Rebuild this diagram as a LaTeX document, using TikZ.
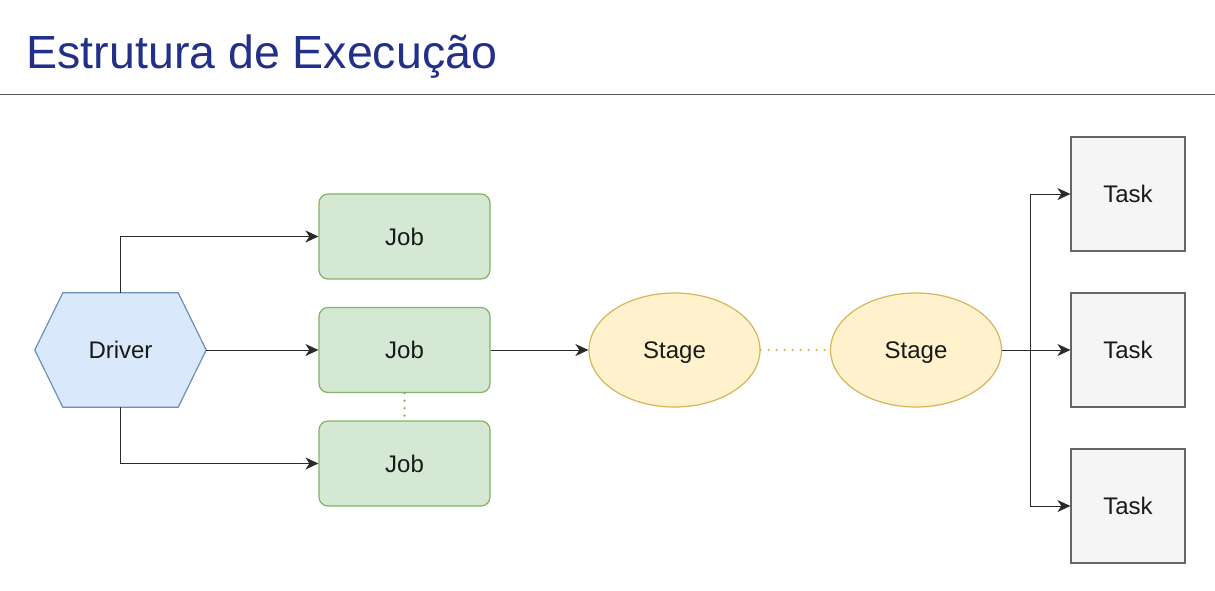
\documentclass[tikz,border=0pt]{standalone}
\usepackage{fontspec}
\setmainfont{Liberation Sans}
\usetikzlibrary{arrows.meta,shapes.geometric,backgrounds}
\definecolor{titleblue}{HTML}{22308A}
\definecolor{rulegray}{HTML}{555555}
\definecolor{drvfill}{HTML}{DAE8FC}
\definecolor{drvline}{HTML}{6C8EBF}
\definecolor{jobfill}{HTML}{D5E8D4}
\definecolor{jobline}{HTML}{82B366}
\definecolor{stgfill}{HTML}{FFF2CC}
\definecolor{stgline}{HTML}{D6B656}
\definecolor{tskfill}{HTML}{F5F5F5}
\definecolor{tskline}{HTML}{666666}
\definecolor{conn}{HTML}{2A2A2A}
\tikzset{
  lbl/.style={font=\fontsize{24}{28}\selectfont, text=black!90, text height=17pt, text depth=0pt},
  drivernode/.style={lbl, minimum width=171pt, minimum height=114pt, inner sep=0pt},
  hexstyle/.style={fill=drvfill, draw=drvline, line width=1.2pt, line join=miter},
  jobbox/.style={lbl, rectangle, rounded corners=9pt, fill=jobfill, draw=jobline, line width=1.2pt, minimum width=171pt, minimum height=85pt, inner sep=0pt},
  stagebox/.style={lbl, ellipse, fill=stgfill, draw=stgline, line width=1.2pt, minimum width=171pt, minimum height=114pt, inner sep=0pt},
  taskbox/.style={lbl, rectangle, fill=tskfill, draw=tskline, line width=1.2pt, minimum width=114pt, minimum height=114pt, inner sep=0pt},
  arr/.style={draw=conn, line width=1pt, -{Stealth[length=13pt,width=12pt,inset=4pt]}},
  dotgreen/.style={draw=jobline, line width=2.6pt, line cap=round, dash pattern=on 0pt off 7.5pt},
  dotgold/.style={draw=stgline, line width=2.6pt, line cap=round, dash pattern=on 0pt off 8pt},
}
\begin{document}
\begin{tikzpicture}[x=1pt,y=-1pt]
\begin{scope}[on background layer]
\fill[white] (0,0) rectangle (1215,590);
\end{scope}
\useasboundingbox (0,0) rectangle (1215,590);
% title
\node[anchor=base west, inner sep=0pt, text=titleblue, font=\fontsize{46.5}{52}\selectfont] (title) at (26.5,68) {Estrutura de Execução};
\coordinate (ruleL) at (0,94.5);
\coordinate (ruleR) at (1215,94.5);
\draw[rulegray, line width=1.7pt] (ruleL) -- (ruleR);
% nodes
\node[drivernode] (driver) at (120.5,350) {Driver};
\begin{scope}[on background layer]
\draw[hexstyle] (driver.west) -- ([xshift=28pt]driver.north west) -- ([xshift=-28pt]driver.north east) -- (driver.east) -- ([xshift=-28pt]driver.south east) -- ([xshift=28pt]driver.south west) -- cycle;
\end{scope}
\node[jobbox] (job1) at (404.5,236.5) {Job};
\node[jobbox] (job2) at (404.5,350) {Job};
\node[jobbox] (job3) at (404.5,463.5) {Job};
\node[stagebox] (stage1) at (674.5,350) {Stage};
\node[stagebox] (stage2) at (916,350) {Stage};
\node[taskbox] (task1) at (1128,194) {Task};
\node[taskbox] (task2) at (1128,350) {Task};
\node[taskbox] (task3) at (1128,506) {Task};
\coordinate (br) at (1030,350);
% connectors
\draw[arr] (driver.north) |- (job1.west);
\draw[arr] (driver.east) -- (job2.west);
\draw[arr] (driver.south) |- (job3.west);
\draw[dotgreen] (job2.south) -- (job3.north);
\draw[arr] (job2.east) -- (stage1.west);
\draw[dotgold] (stage1.east) -- (stage2.west);
\draw[arr] (stage2.east) -- (task2.west);
\draw[arr] (br) |- (task1.west);
\draw[arr] (br) |- (task3.west);
\end{tikzpicture}
\end{document}
